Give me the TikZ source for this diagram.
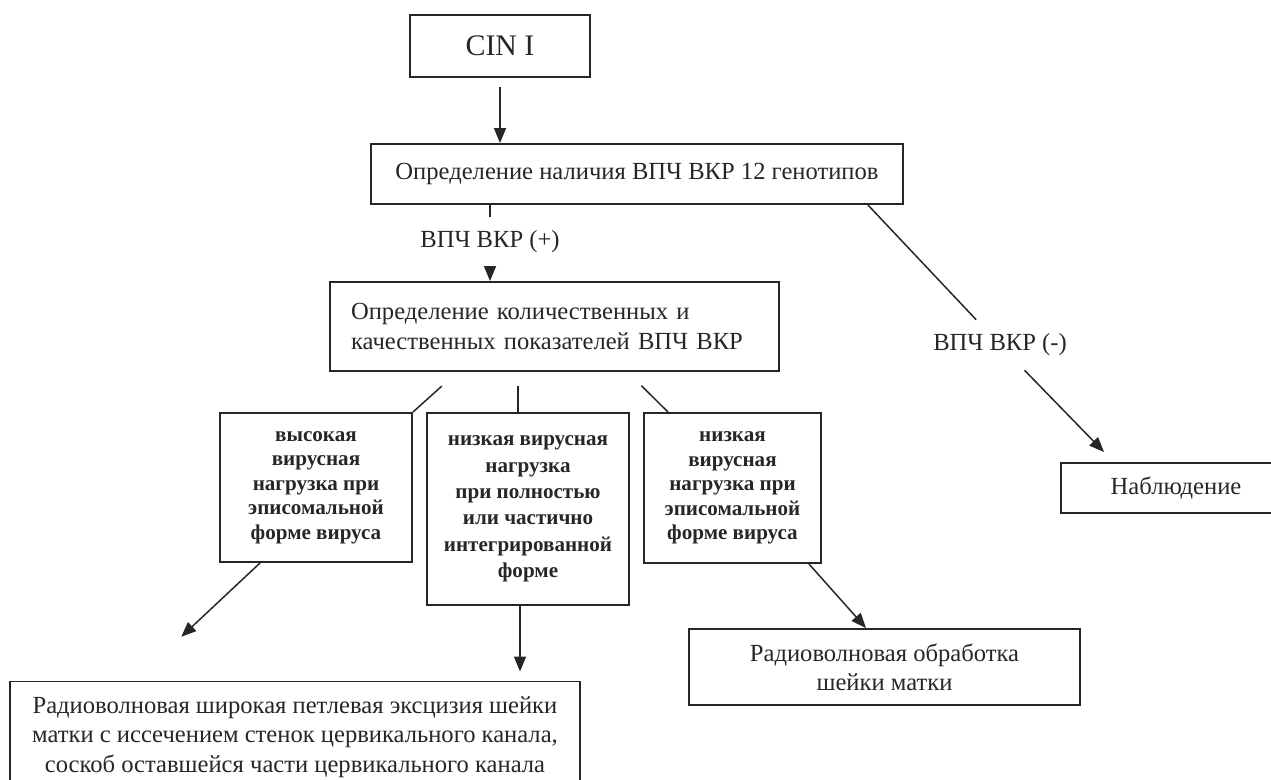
\documentclass[tikz,border=0pt]{standalone}
\usepackage{fontspec}
\setmainfont{Liberation Serif}
\usetikzlibrary{arrows.meta}

\tikzset{
   box/.style={draw, line width=1.1pt, align=center, inner sep=0pt,
      font=\fontsize{14pt}{16.5pt}\selectfont},
   smallbox/.style={box, font=\fontsize{12pt}{14pt}\selectfont\bfseries},
   lbl/.style={inner sep=0pt, minimum height=1cm, font=\fontsize{14pt}{16pt}\selectfont},
   conn/.style={draw, line width=0.85pt},
   arr/.style={conn, -{Triangle[length=0.3cm,width=0.24cm]}}
}

\begin{document}
\begin{tikzpicture}[x=0.02cm, y=-0.02cm, color=black!85]

      \useasboundingbox (0,0) rectangle (1271,779);

      \node [box, minimum width=3.6cm, minimum height=1.24cm,
         font=\fontsize{17pt}{20pt}\selectfont] (cin) at (500,46) {CIN I};

      \node [box, minimum width=10.64cm, minimum height=1.2cm] (presence) at (637,174)
         {Определение наличия ВПЧ ВКР 12 генотипов};

      \node [box, minimum width=8.98cm, minimum height=1.78cm, align=left, text width=8.14cm,
         font=\fontsize{14pt}{17pt}\selectfont] (quant) at (554.5,326.5)
         {Определение количественных и\\качественных показателей ВПЧ ВКР};

      \node [smallbox, minimum width=3.84cm, minimum height=2.98cm] (high) at (316,487.5)
         {высокая\\вирусная\\нагрузка при\\эписомальной\\форме вируса};

      \node [smallbox, minimum width=4.04cm, minimum height=3.84cm,
         font=\fontsize{12pt}{15pt}\selectfont\bfseries] (lowint) at (528,509)
         {низкая вирусная\\нагрузка\\при полностью\\или частично\\интегрированной\\форме};

      \node [smallbox, minimum width=3.54cm, minimum height=3cm] (lowepi) at (732.5,488)
         {низкая\\вирусная\\нагрузка при\\эписомальной\\форме вируса};

      \node [box, minimum width=4.6cm, minimum height=1cm] (observe) at (1176,488) {Наблюдение};

      \node [box, minimum width=7.82cm, minimum height=1.52cm] (radio) at (884.5,667)
         {Радиоволновая обработка\\шейки матки};

      \node [box, minimum width=11.4cm, minimum height=2.22cm,
         font=\fontsize{14pt}{16.8pt}\selectfont] (excision) at (295,737)
         {Радиоволновая широкая петлевая эксцизия шейки\\матки с иссечением стенок цервикального канала,\\соскоб оставшейся части цервикального канала};

      \node [lbl] (plus) at (490,242) {ВПЧ ВКР (+)};
      \node [lbl] (minus) at (1000,345) {ВПЧ ВКР (-)};

      \coordinate (midtop) at ([xshift=-0.2cm]lowint.north);
      \coordinate (midbot) at ([xshift=-0.16cm]lowint.south);

      \draw [arr, shorten <=0.18cm] (cin.south) -- (cin.south |- presence.north);

      \draw [conn] (presence.south -| plus) -- (plus);
      \draw [arr] (plus) -- (plus |- quant.north);

      \draw [conn] ([xshift=-0.72cm]presence.south east) -- (minus);
      \draw [arr] (minus) -- ([shift={(44,-10)}]observe.north west);

      \draw [conn, shorten <=0.42cm] ([xshift=2.57cm]quant.south west) -- (high.north east);
      \draw [conn, shorten <=0.28cm] (midtop |- quant.south) -- (midtop);
      \draw [conn, shorten <=0.39cm] ([xshift=5.97cm]quant.south west) -- ([xshift=0.5cm]lowepi.north west);

      \draw [arr, shorten >=1.28cm] ([xshift=0.82cm]high.south west) -- ([xshift=2.51cm]excision.north west);
      \draw [arr, shorten >=0.18cm] (midbot) -- (midbot |- excision.north);
      \draw [arr] ([xshift=-0.26cm]lowepi.south east) -- ([xshift=3.56cm]radio.north west);

   \end{tikzpicture}
\end{document}
